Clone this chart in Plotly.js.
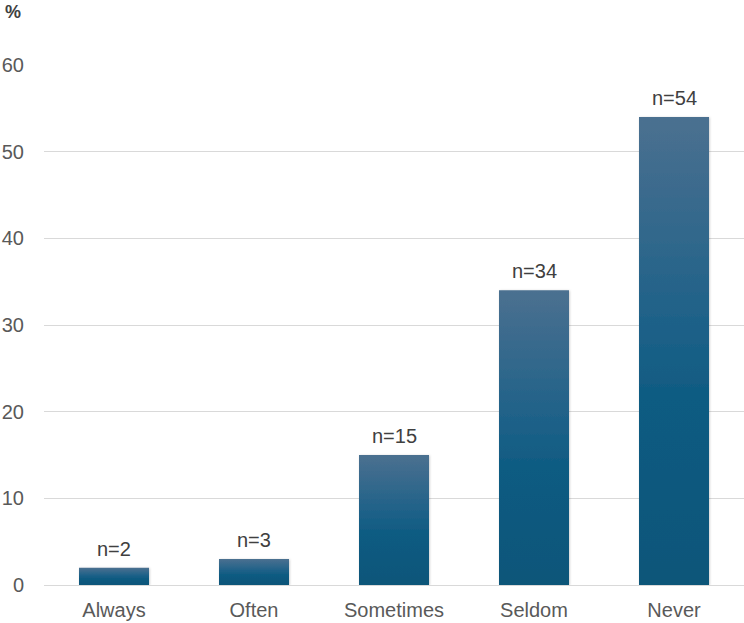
<!DOCTYPE html>
<html>
<head>
<meta charset="utf-8">
<script src="https://cdn.plot.ly/plotly-3.0.1.min.js"></script>
<style>
  html, body { margin: 0; padding: 0; background: #fff; }
  #chart { width: 744px; height: 623px; }
</style>
</head>
<body>
<div id="chart"></div>
<script>
// Response frequency categories and respondent counts
const categories = ["Always", "Often", "Sometimes", "Seldom", "Never"];
const counts = [2, 3, 15, 34, 54];
const yTicks = [0, 10, 20, 30, 40, 50, 60];

const font = "'Liberation Sans', Arial, Helvetica, sans-serif";

const trace = {
  type: "bar",
  x: categories,
  y: counts,
  marker: { color: "#1d6088", line: { width: 0 } },
  hoverinfo: "none"
};

// Count labels sitting just above each bar
const countLabels = categories.map((c, i) => ({
  x: c,
  y: counts[i],
  xref: "x", yref: "y",
  text: "n=" + counts[i],
  showarrow: false,
  xanchor: "center", yanchor: "bottom",
  yshift: 6,
  font: { family: font, size: 20, color: "#404040" }
}));

const layout = {
  width: 744,
  height: 623,
  margin: { l: 44, r: 0, t: 65, b: 38 },
  paper_bgcolor: "#ffffff",
  plot_bgcolor: "#ffffff",
  bargap: 0.5,
  showlegend: false,
  font: { family: font, size: 20, color: "#595959" },
  xaxis: {
    type: "category",
    showgrid: false,
    showline: false,
    zeroline: false,
    ticks: "",
    tickfont: { family: font, size: 20, color: "#595959" },
    ticklabelstandoff: 11
  },
  yaxis: {
    range: [0, 60],
    tickvals: yTicks,
    ticktext: yTicks.map(String),
    showgrid: true,
    gridcolor: "#d9d9d9",
    gridwidth: 1,
    zeroline: true,
    zerolinecolor: "#d9d9d9",
    zerolinewidth: 1,
    showline: false,
    ticks: "",
    tickfont: { family: font, size: 20, color: "#595959" },
    ticklabelstandoff: 19
  },
  annotations: countLabels.concat([{
    text: "<b>%</b>",
    xref: "paper", yref: "paper",
    x: -44 / 700, y: 1 + 65 / 520,
    xanchor: "left", yanchor: "top",
    xshift: 3, yshift: 0,
    showarrow: false,
    font: { family: font, size: 18, color: "#404040" }
  }])
};

Plotly.newPlot("chart", [trace], layout, { staticPlot: true, displayModeBar: false }).then(gd => {
  // Vertical shading on each bar: lighter at the top, deeper at the base
  const svgNS = "http://www.w3.org/2000/svg";
  const svg = gd.querySelector("svg.main-svg");
  let defs = svg.querySelector("defs");
  if (!defs) { defs = document.createElementNS(svgNS, "defs"); svg.insertBefore(defs, svg.firstChild); }
  const grad = document.createElementNS(svgNS, "linearGradient");
  grad.setAttribute("id", "barShade");
  grad.setAttribute("x1", "0"); grad.setAttribute("y1", "0");
  grad.setAttribute("x2", "0"); grad.setAttribute("y2", "1");
  [["0", "#4b7090"], ["0.45", "#1d6188"], ["0.6", "#0f5b82"], ["1", "#0b5679"]].forEach(([o, c]) => {
    const s = document.createElementNS(svgNS, "stop");
    s.setAttribute("offset", o); s.setAttribute("stop-color", c);
    grad.appendChild(s);
  });
  defs.appendChild(grad);

  const shadow = document.createElementNS(svgNS, "filter");
  shadow.setAttribute("id", "barShadow");
  shadow.setAttribute("x", "-10%"); shadow.setAttribute("y", "-10%");
  shadow.setAttribute("width", "130%"); shadow.setAttribute("height", "120%");
  const ds = document.createElementNS(svgNS, "feDropShadow");
  ds.setAttribute("dx", "0.8"); ds.setAttribute("dy", "0.5");
  ds.setAttribute("stdDeviation", "1");
  ds.setAttribute("flood-color", "#000"); ds.setAttribute("flood-opacity", "0.2");
  shadow.appendChild(ds);
  defs.appendChild(shadow);

  gd.querySelectorAll(".bars .point path").forEach(p => {
    p.style.fill = "url(#barShade)";
    p.setAttribute("filter", "url(#barShadow)");
  });
});
</script>
</body>
</html>
